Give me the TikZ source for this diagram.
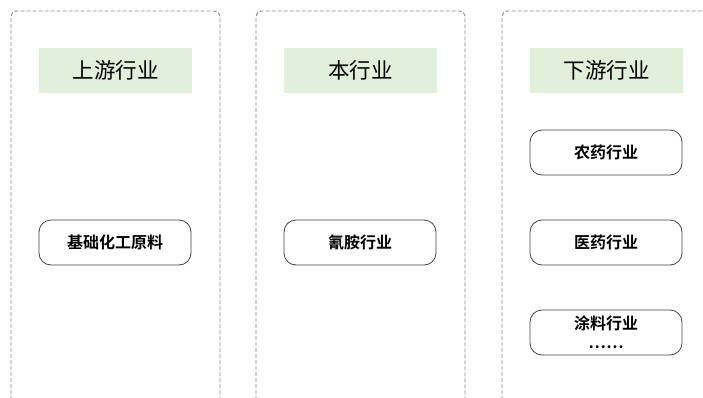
\documentclass[tikz,border=0pt]{standalone}
\usepackage{fontspec}
\setmainfont{Noto Sans CJK SC}[BoldFont={* Bold}]
\usetikzlibrary{calc}
\definecolor{framegray}{HTML}{8C8C8C}
\definecolor{headgreen}{HTML}{E2EFDA}
\tikzset{
  lane/.style={draw=framegray,line width=0.9pt,dash pattern=on 4pt off 2pt,rounded corners=6pt},
  lanehead/.style={fill=headgreen,minimum width=153pt,minimum height=45pt,inner sep=0pt,font=\fontsize{21.5}{23}\selectfont},
  trade/.style={draw=black!75,line width=0.8pt,rounded corners=12pt,minimum width=152pt,minimum height=45pt,inner sep=0pt,align=center,font=\bfseries\fontsize{16}{17}\selectfont}
}
\begin{document}
\begin{tikzpicture}[x=1pt,y=-1pt]
    \useasboundingbox (0,0) rectangle (703,397);
    \clip (0,0) rectangle (703,397);
    % three lanes
    \foreach \x in {11,256,502} {
      \draw[lane] (\x,412) -- (\x,11) -- (\x+209,11) -- (\x+209,412);
    }
    \node[lanehead] (up) at (115.5,70.5) {上游行业};
    \node[lanehead] (this) at (360.5,70.5) {本行业};
    \node[lanehead] (down) at (606.5,70.5) {下游行业};
    \node[trade] (raw) at (115,242.5) {基础化工原料};
    \node[trade] (cyan) at (360,242.5) {氰胺行业};
    \node[trade] (agro) at (606,152.5) {农药行业};
    \node[trade] (pharma) at (606,242.5) {医药行业};
    \node[trade,font=\bfseries\fontsize{16}{19}\selectfont] (paint) at (606,332.5) {涂料行业\\……};
\end{tikzpicture}
\end{document}
